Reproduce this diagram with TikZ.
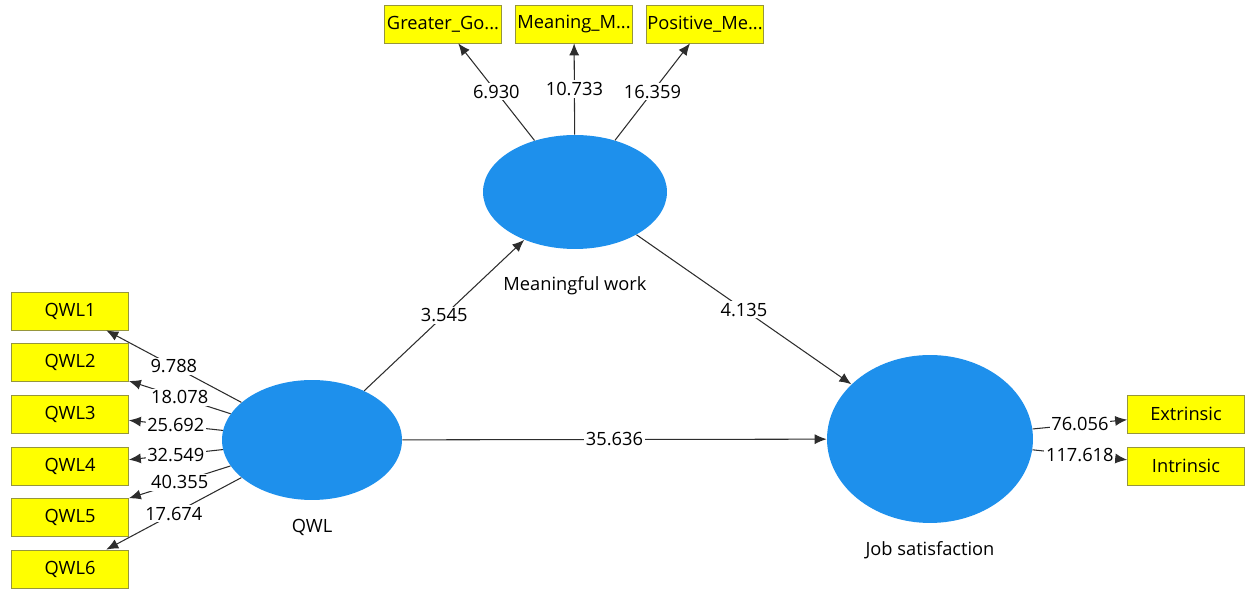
\documentclass[tikz,border=0pt]{standalone}
\usepackage{fontspec}
\setmainfont{Open Sans}
\usetikzlibrary{shapes.geometric,arrows.meta}
\definecolor{lvblue}{RGB}{30,144,236}
\definecolor{mvyellow}{RGB}{255,255,0}
\definecolor{mvborder}{RGB}{150,150,60}
\definecolor{linkgray}{RGB}{45,45,45}
\tikzset{
    latent/.style={ellipse, fill=lvblue, inner sep=0pt},
    manifest/.style={rectangle, fill=mvyellow, draw=mvborder, line width=0.4pt, minimum width=2.34cm, minimum height=0.76cm, inner sep=0pt},
    link/.style={->, draw=linkgray, line width=0.6pt},
    coef/.style={fill=white, inner sep=1pt, pos=0.5}
}

\begin{document}
\begin{tikzpicture} [x=0.02cm, y=-0.02cm, >={Latex[length=2.4mm,width=2mm]}, every node/.style={font=\fontsize{10.4}{12}\selectfont}]
    \useasboundingbox (0,0) rectangle (1245,590);

    % latent variables
    \node[latent, minimum width=3.68cm, minimum height=2.28cm] (MW) at (575,192) {};
    \node[latent, minimum width=3.6cm, minimum height=2.4cm] (QWL) at (312,440) {};
    \node[latent, minimum width=4.12cm, minimum height=3.36cm] (JS) at (930,439) {};
    \node (MWname) at (575,286) {Meaningful work};
    \node (QWLname) at (312,527) {QWL};
    \node (JSname) at (930,550) {Job satisfaction};

    % indicators
    \node[manifest] (GG) at (443,24) {Greater\_Go...};
    \node[manifest] (MM) at (574,24) {Meaning\_M...};
    \node[manifest] (PM) at (705,24) {Positive\_Me...};
    \node[manifest] (QWL1) at (70,311) {QWL1};
    \node[manifest] (QWL2) at (70,362) {QWL2};
    \node[manifest] (QWL3) at (70,414) {QWL3};
    \node[manifest] (QWL4) at (70,466) {QWL4};
    \node[manifest] (QWL5) at (70,517) {QWL5};
    \node[manifest] (QWL6) at (70,569) {QWL6};
    \node[manifest] (EX) at (1186,414) {Extrinsic};
    \node[manifest] (IN) at (1186,466) {Intrinsic};

    % outer loadings
    \draw[link] (MW) -- node[coef] {6.930} (GG);
    \draw[link] (MW) -- node[coef] {10.733} (MM);
    \draw[link] (MW) -- node[coef] {16.359} (PM);
    \draw[link] (QWL) -- node[coef] {9.788} (QWL1);
    \draw[link] (QWL) -- node[coef] {18.078} (QWL2);
    \draw[link] (QWL) -- node[coef] {25.692} (QWL3);
    \draw[link] (QWL) -- node[coef] {32.549} (QWL4);
    \draw[link] (QWL) -- node[coef] {40.355} (QWL5);
    \draw[link] (QWL) -- node[coef] {17.674} (QWL6);
    \draw[link] (JS) -- node[coef] {76.056} (EX);
    \draw[link] (JS) -- node[coef] {117.618} (IN);

    % inner paths
    \draw[link] (QWL) -- node[coef] {3.545} (MW);
    \draw[link] (MW) -- node[coef] {4.135} (JS);
    \draw[link] (QWL) -- node[coef] {35.636} (JS);
\end{tikzpicture}
\end{document}
